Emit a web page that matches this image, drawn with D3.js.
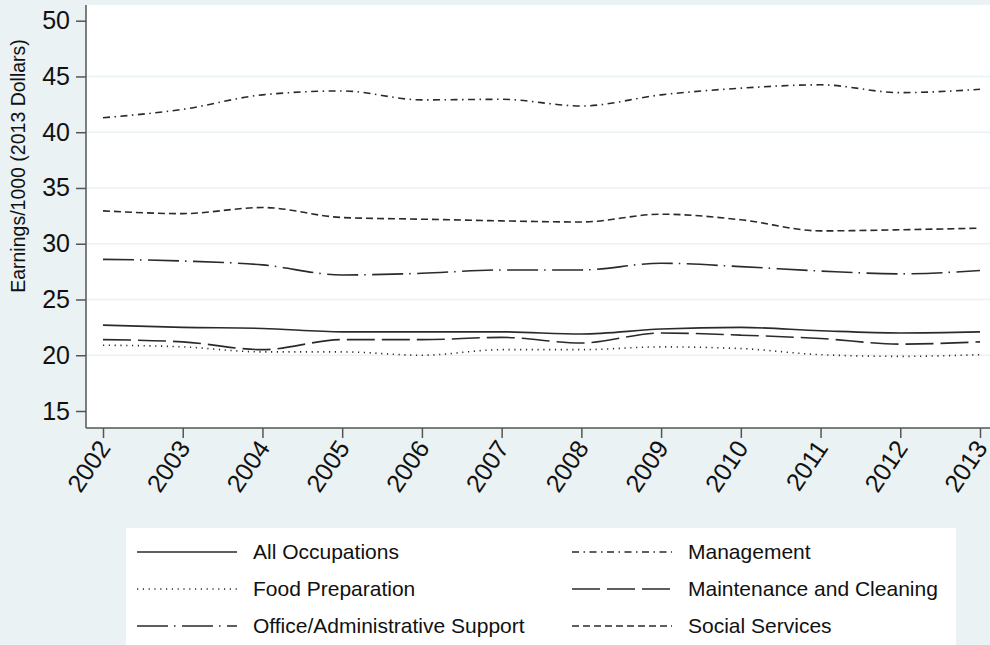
<!DOCTYPE html>
<html>
<head>
<meta charset="utf-8">
<script src="https://cdn.jsdelivr.net/npm/d3@7"></script>
<style>
  body { margin: 0; background: #eaf2f3; }
  svg { display: block; font-family: "Liberation Sans", Arial, sans-serif; }
</style>
</head>
<body>
<svg id="chart" width="990" height="645"></svg>
<script>
// data
const years = [2002, 2003, 2004, 2005, 2006, 2007, 2008, 2009, 2010, 2011, 2012, 2013];
const allOccupations = [22.7, 22.5, 22.4, 22.1, 22.1, 22.1, 21.9, 22.35, 22.5, 22.2, 22.0, 22.1];
const foodPreparation = [20.9, 20.75, 20.3, 20.3, 20.0, 20.5, 20.5, 20.75, 20.6, 20.05, 19.9, 20.05];
const officeSupport = [28.6, 28.45, 28.1, 27.2, 27.35, 27.65, 27.65, 28.25, 27.95, 27.55, 27.3, 27.6];
const management = [41.3, 42.05, 43.35, 43.7, 42.9, 42.95, 42.35, 43.35, 43.95, 44.25, 43.55, 43.85];
const maintenance = [21.4, 21.2, 20.5, 21.4, 21.4, 21.6, 21.1, 22.0, 21.8, 21.5, 21.0, 21.2];
const socialServices = [32.95, 32.7, 33.25, 32.35, 32.2, 32.05, 31.95, 32.65, 32.15, 31.15, 31.25, 31.4];
const yTicks = [15, 20, 25, 30, 35, 40, 45, 50];
const yGrid = [20, 25, 30, 35, 40, 45];

const series = [
  { name: 'All Occupations', values: allOccupations, dash: null },
  { name: 'Management', values: management, dash: '7,4.5,1.5,4.5' },
  { name: 'Food Preparation', values: foodPreparation, dash: '1.2,4.6' },
  { name: 'Maintenance and Cleaning', values: maintenance, dash: '28,7' },
  { name: 'Office/Administrative Support', values: officeSupport, dash: '31,6,1.5,6.5' },
  { name: 'Social Services', values: socialServices, dash: '7,4' }
];

const svg = d3.select('#chart');
const plot = { left: 86, top: 5, right: 990, bottom: 428 };

const x = d3.scaleLinear().domain([2002, 2013]).range([103, 980]);
const y = d3.scaleLinear().domain([15, 50]).range([411, 20.7]);

// plot region
svg.append('rect')
  .attr('x', plot.left).attr('y', plot.top)
  .attr('width', plot.right - plot.left).attr('height', plot.bottom - plot.top)
  .attr('fill', '#fff');

// gridlines
svg.append('g').selectAll('line').data(yGrid).join('line')
  .attr('x1', plot.left).attr('x2', plot.right)
  .attr('y1', d => y(d)).attr('y2', d => y(d))
  .attr('stroke', '#eaf2f3').attr('stroke-width', 1.5);

// axes
const yAxis = svg.append('g')
  .attr('transform', `translate(${plot.left},0)`)
  .call(d3.axisLeft(y).tickValues(yTicks).tickSize(10).tickPadding(6));
yAxis.select('.domain').attr('d', `M0,${plot.top}V${plot.bottom}`);

const xAxis = svg.append('g')
  .attr('transform', `translate(0,${plot.bottom})`)
  .call(d3.axisBottom(x).tickValues(years).tickFormat(d3.format('d')).tickSize(10));
xAxis.select('.domain').attr('d', `M${plot.left},0H${plot.right}`);

svg.selectAll('.domain, .tick line').attr('stroke', '#555').attr('stroke-width', 1.5);
yAxis.selectAll('text').attr('font-size', 25).attr('fill', '#111');
xAxis.selectAll('text')
  .attr('font-size', 25).attr('fill', '#111')
  .attr('text-anchor', 'end')
  .attr('dy', null)
  .attr('y', 0)
  .attr('transform', 'translate(8,20) rotate(-56)');

// y title
svg.append('text')
  .attr('transform', 'translate(25,166) rotate(-90)')
  .attr('text-anchor', 'middle')
  .attr('font-size', 19.5).attr('fill', '#111')
  .text('Earnings/1000 (2013 Dollars)');

// lines
const line = d3.line()
  .x((d, i) => x(years[i]))
  .y(d => y(d))
  .curve(d3.curveMonotoneX);

svg.append('g').selectAll('path').data(series).join('path')
  .attr('d', d => line(d.values))
  .attr('fill', 'none')
  .attr('stroke', '#2a2a2a')
  .attr('stroke-width', 1.6)
  .attr('stroke-dasharray', d => d.dash);

// legend
svg.append('rect')
  .attr('x', 126).attr('y', 528).attr('width', 830).attr('height', 130)
  .attr('fill', '#fff');

const legend = svg.append('g').selectAll('g').data(series).join('g')
  .attr('transform', (d, i) => `translate(${i % 2 ? 572 : 137},${552 + Math.floor(i / 2) * 37})`);

legend.append('line')
  .attr('x1', 0).attr('x2', 100)
  .attr('stroke', '#2a2a2a').attr('stroke-width', 1.6)
  .attr('stroke-dasharray', d => d.dash);

legend.append('text')
  .attr('x', 116)
  .attr('dy', '0.35em')
  .attr('font-size', 21).attr('fill', '#111')
  .text(d => d.name);
</script>
</body>
</html>
